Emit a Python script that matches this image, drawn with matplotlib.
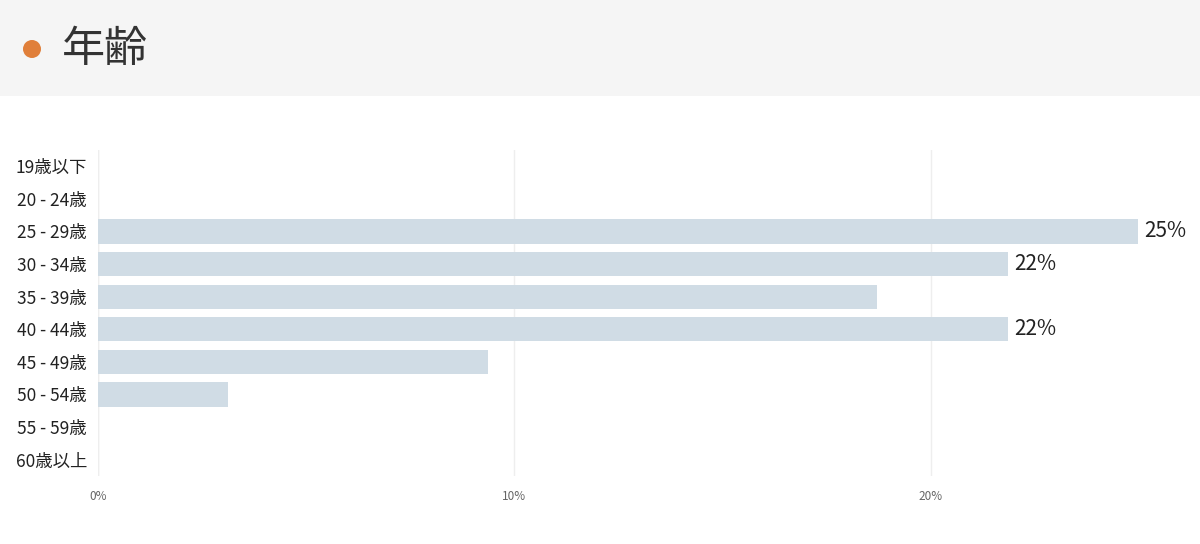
import matplotlib
matplotlib.use("Agg")
import matplotlib.pyplot as plt
from matplotlib.patches import Rectangle, Ellipse

plt.rcParams['font.family'] = ['Noto Sans CJK JP', 'DejaVu Sans']

categories = ["19歳以下", "20 - 24歳", "25 - 29歳", "30 - 34歳", "35 - 39歳",
              "40 - 44歳", "45 - 49歳", "50 - 54歳", "55 - 59歳", "60歳以上"]
values = [0, 0, 24.97, 21.85, 18.7, 21.85, 9.36, 3.12, 0, 0]
labels = {2: "25%", 3: "22%", 5: "22%"}
xticks = [0, 10, 20]
xticklabels = ["0%", "10%", "20%"]

fig = plt.figure(figsize=(12, 5.44), dpi=100)
fig.patches.append(Rectangle((0, 1 - 96/544), 1, 96/544, transform=fig.transFigure,
                             facecolor="#f5f5f5", edgecolor="none", zorder=0))
fig.patches.append(Ellipse((32/1200, 1 - 49/544), 18/1200, 18/544, transform=fig.transFigure,
                           facecolor="#e07f3a", edgecolor="none"))
fig.text(62/1200, 1 - 50/544, "年齢", fontsize=31, color="#333333", va="center", ha="left")

ax = fig.add_axes([98/1200, 1 - 476/544, (1145 - 98)/1200, (476 - 150)/544])
y = list(range(len(categories)))
ax.barh(y, values, height=0.74, color="#d0dce5", zorder=2)
for i, t in labels.items():
    ax.text(values[i] + 0.15, i, t, va="center", ha="left", fontsize=15, color="#222222")
ax.set_yticks(y)
ax.set_yticklabels(categories, fontsize=12.5, color="#222222")
ax.set_ylim(len(categories) - 0.5, -0.5)
ax.set_xlim(0, (1145 - 98)/41.65)
ax.set_xticks(xticks)
ax.set_xticklabels(xticklabels, fontsize=8.5, color="#666666")
ax.grid(axis="x", color="#eeeeee", linewidth=1, zorder=0)
for s in ax.spines.values():
    s.set_visible(False)
ax.axvline(0, color="#eeeeee", linewidth=1, zorder=1)
ax.tick_params(length=0, pad=10)
ax.tick_params(axis="y", pad=8)
fig.savefig("out.png", dpi=100)
